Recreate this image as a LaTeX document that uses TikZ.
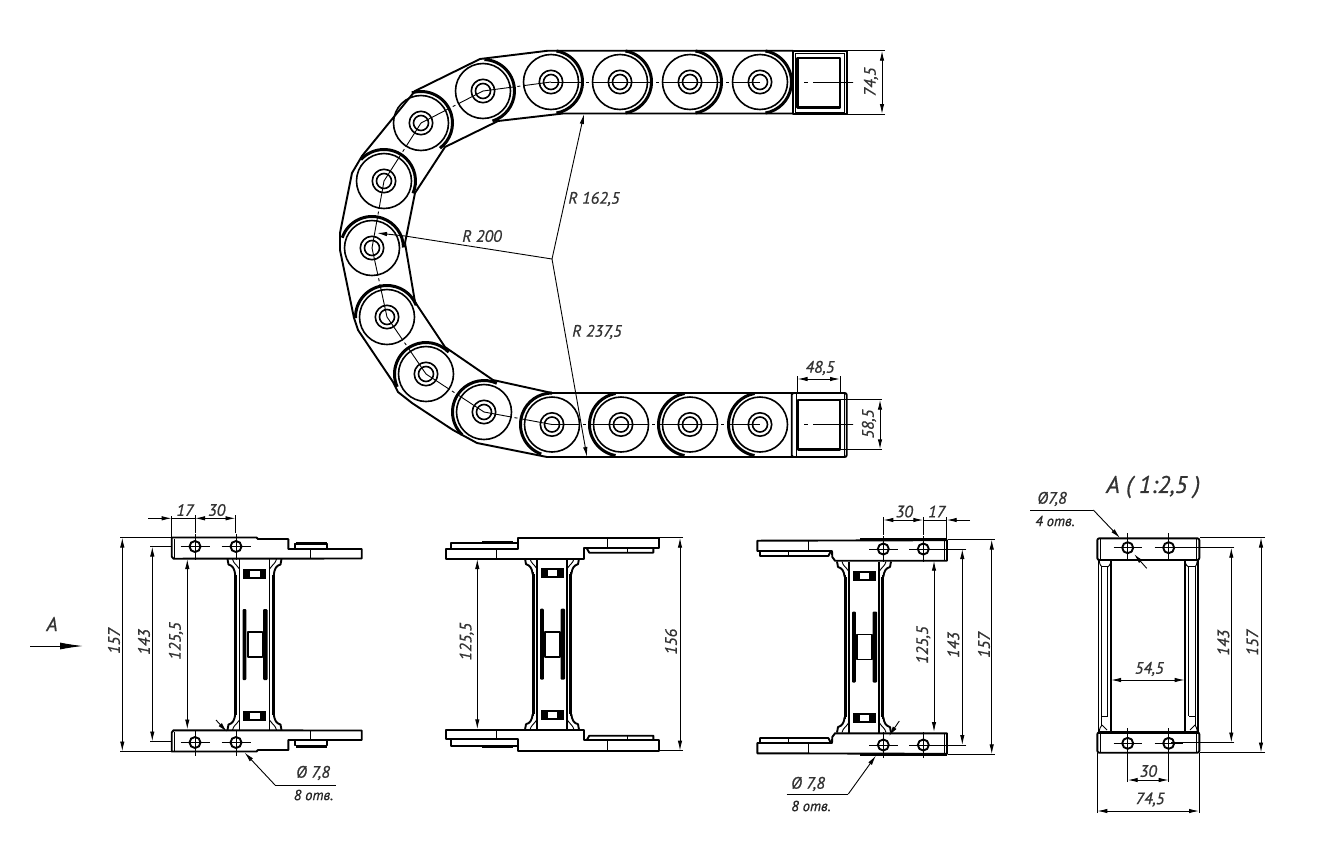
\documentclass[tikz,border=0pt]{standalone}
\usepackage{fontspec}
\setmainfont{PT Sans}[ItalicFeatures={FakeBold=0.8}]
\usetikzlibrary{arrows.meta}

\tikzset{
  main/.style={line width=1.9pt, line join=round},
  heavy/.style={line width=3pt},
  ring/.style={line width=1.6pt},
  thinl/.style={line width=0.9pt},
  dim/.style={line width=0.9pt, {Latex[length=10pt,width=4.4pt]}-{Latex[length=10pt,width=4.4pt]}},
  dimto/.style={line width=0.9pt, -{Latex[length=10pt,width=4.4pt]}},
  dimtext/.style={inner sep=0pt, text=black!80, font=\fontsize{16.5}{16}\selectfont\itshape},
  notetext/.style={inner sep=0pt, text=black!85, font=\fontsize{14.5}{14}\selectfont\itshape}
}

% web between the two bars, same in all three side views
\newcommand{\webpart}{
  \foreach \s in {1,-1} {
    \begin{scope}[yscale=\s]
      \fill[black] (-11.5,-76) rectangle (11.5,-66);
      \fill[white] (-4.5,-74) rectangle (5,-68);
      \foreach \t in {1,-1} {
        \begin{scope}[xscale=\t]
          \draw[main] (15,-85.5) -- (15,0);
          \draw[main] (19.3,-72) -- (19.3,0);
          \draw[thinl] (17.8,-70) -- (17.8,0);
          \draw[main] (27,-85.5) -- (26,-80) .. controls (22,-79) and (20,-76) .. (19.3,-70);
          \draw[thinl] (22,-85.5) .. controls (21,-81) and (18,-80) .. (15.5,-76);
        \end{scope}
      }
    \end{scope}
  }
  \fill[black, rounded corners=1pt] (-12,-35.5) rectangle (-8.2,35.5);
  \fill[black, rounded corners=1pt] (8.6,-35.5) rectangle (13,35.5);
  \draw[main, fill=white] (-6.8,-12.5) rectangle (8,12.5);
}
% bar of the left view
\newcommand{\barleft}{
  \draw[main] (-82.8,-107) -- (2,-107) -- (3.5,-105.5) -- (33.8,-105.5) -- (33.8,-95.5) -- (107.2,-95.5) -- (107.2,-86) -- (-81,-85.8) -- (-82.8,-88) -- cycle;
  \draw[thinl] (-80.5,-106) -- (-80.5,-87);
  \draw[thinl] (56.2,-95.5) -- (56.2,-86);
  \draw[main] (40.5,-96) -- (40.5,-101) -- (72.2,-101) -- (72.2,-96);
  \draw[heavy] (41,-101.5) -- (72,-101.5);
  \draw[main] (-59.5,-98) circle (5.5);
  \draw[main] (-18.5,-98) circle (5.5);
  \draw[thinl] (-74,-98) -- (-45,-98);
  \draw[thinl] (-33,-98) -- (-4,-98);
  \draw[thinl] (-59.5,-111) -- (-59.5,-85);
  \draw[thinl] (-18.5,-111) -- (-18.5,-85);
}
% bar of the middle view
\newcommand{\barmid}{
  \draw[main] (-106.3,-95.2) -- (-33.7,-95.2) -- (-33.7,-106.5) -- (107.3,-106.5) -- (107.3,-96) -- (32,-96) -- (32,-85.5) -- (-106.3,-85.5) -- cycle;
  \draw[main] (-101.3,-95.2) -- (-101.3,-101.5) -- (-33.7,-101.5);
  \draw[heavy] (-70,-102) -- (-39,-102);
  \draw[main] (34.7,-96) -- (37.3,-91.5) -- (101.3,-91.5) -- (101.3,-96);
  \draw[thinl] (55.3,-106.5) -- (55.3,-96);
  \draw[thinl] (-55.3,-95.2) -- (-55.3,-85.5);
  \draw[thinl] (75.3,-96) -- (75.3,-91.5);
}
% bar of the right view
\newcommand{\barright}{
  \draw[main] (-106.7,-106.3) -- (83,-106.8) -- (83,-86.3) -- (-29,-86.3) -- (-31.7,-90) -- (-32,-96) -- (-106.7,-96) -- cycle;
  \draw[heavy] (-4,-107.2) -- (83,-107.2);
  \draw[thinl] (80.5,-106) -- (80.5,-87);
  \draw[main] (-104,-96) -- (-104,-91) -- (-35.7,-91) -- (-33,-96);
  \draw[thinl] (-55.7,-106.3) -- (-55.7,-96);
  \draw[thinl] (-75.7,-96) -- (-75.7,-91);
  \draw[main] (19.3,-98) circle (5.5);
  \draw[main] (59.3,-98) circle (5.5);
  \draw[thinl] (5,-98) -- (34,-98);
  \draw[thinl] (45,-98) -- (74,-98);
  \draw[thinl] (19.3,-111) -- (19.3,-85);
  \draw[thinl] (59.3,-111) -- (59.3,-85);
}

\begin{document}
\begin{tikzpicture}[x=1pt,y=-1pt]
\useasboundingbox (0,0) rectangle (1317,852);

        % Roller centres
        \coordinate (r1)  at (551,82);
        \coordinate (r2)  at (483,91);
        \coordinate (r3)  at (421,123);
        \coordinate (r4)  at (384,181);
        \coordinate (r5)  at (372,248);
        \coordinate (r6)  at (387,317);
        \coordinate (r7)  at (426,374);
        \coordinate (r8)  at (484,412);
        \coordinate (r9)  at (552,424.5);
        \coordinate (r10) at (621,424.5);
        \coordinate (r11) at (690,424.5);
        \coordinate (r12) at (760,424.5);
        \coordinate (r13) at (620,82);
        \coordinate (r14) at (690,82);
        \coordinate (r15) at (760,82);

% center lines
\foreach \a/\b in {r15/r14,r14/r13,r13/r1,r1/r2,r2/r3,r3/r4,r4/r5,r5/r6,r6/r7,r7/r8,r8/r9,r9/r10,r10/r11,r11/r12} {
  \draw[thinl, dash pattern=on 28pt off 3pt on 3pt off 3pt on 60pt] (\a) -- (\b);
}

% Rollers and their heavy crescents
\foreach \r/\a in {r1/0,r13/0,r14/0,r15/0,r2/-7.5,r3/-27,r4/-57,r5/-81,r6/-102,r7/-124,r8/-146,r9/-170,r10/-180,r11/-180,r12/-180} {
  \draw[ring] (\r) circle (27.5);
  \draw[ring] (\r) circle (11.7);
  \draw[ring] (\r) circle (7.5);
  \draw[heavy] (\r) ++(\a-80:31.5) arc (\a-80:\a+80:31.5);
}

% Chain outline
\draw[main] (793,50.7) -- (548,50.7) -- (480,59) -- (415,91) -- (362,156) -- (352,173) -- (340,233) -- (340,250) -- (354,318) -- (358,330) -- (393,382) -- (398,392) -- (412,403) -- (453,430) -- (477,443) -- (547,457) -- (793,457);
\draw[main] (793,113.5) -- (563,113.5) -- (498,121) -- (445,147) -- (415,193) -- (405,243) -- (415,302) -- (445,347) -- (493,380) -- (552,393) -- (793,393);

% End pieces
\draw[main] (792.7,50.7) rectangle (846.7,114);
\draw[thinl] (795,53) rectangle (844.5,112);
\draw[main, line width=2.4pt] (797.5,58) rectangle (840,107.5);
\draw[main, rounded corners=2pt] (791.7,393) rectangle (846.7,457);
\draw[thinl] (796.5,393) -- (796.5,457);
\draw[thinl] (844,393) -- (844,457);
\draw[main, line width=2.4pt] (797.7,400) rectangle (840,449.3);
\draw[thinl, dash pattern=on 0pt off 11pt on 4pt off 5pt on 40pt] (793,82) -- (853,82);
\draw[thinl, dash pattern=on 0pt off 11pt on 4pt off 5pt on 40pt] (793,424.5) -- (853,424.5);

% Radii
\coordinate (c0) at (552,259);
\coordinate (t162) at (584,114);
\coordinate (t200) at (377,233);
\coordinate (t237) at (587,457);
\coordinate (k200) at (405,236);
\draw[dimto] (c0) -- (t162);
\draw[dimto] (c0) -- (t237);
\draw[thinl] (c0) -- (k200);
\draw[dimto] (k200) -- (t200);
\node[dimtext] at (594,199) (lr162) {R 162,5};
\node[dimtext] at (482,236) (lr200) {R 200};
\node[dimtext] at (597,332) (lr237) {R 237,5};

% Dimensions of the chain
\coordinate (a745) at (882,50.7);
\coordinate (b745) at (882,114);
\draw[dim] (a745) -- (b745);
\draw[thinl] (a745) ++(3,0) -- ++(-38,0);
\draw[thinl] (b745) ++(3,0) -- ++(-38,0);
\node[dimtext, rotate=90] at (871,82) (l745) {74,5};
\coordinate (a485) at (797.5,379);
\coordinate (b485) at (840,379);
\draw[dim] (a485) -- (b485);
\draw[thinl] (a485) ++(0,-3) -- ++(0,17);
\draw[thinl] (b485) ++(0,-3) -- ++(0,17);
\node[dimtext] at (820,368) (l485) {48,5};
\coordinate (a585) at (880,399.7);
\coordinate (b585) at (880,449.3);
\draw[dim] (a585) -- (b585);
\draw[thinl] (a585) ++(2,0) -- ++(-42,0);
\draw[thinl] (b585) ++(2,0) -- ++(-42,0);
\node[dimtext, rotate=90] at (869,424) (l585) {58,5};

% Arrow A
\coordinate (aa) at (30,646);
\coordinate (ab) at (83,646);
\draw[line width=0.9pt, -{Latex[length=23pt,width=7pt]}] (aa) -- (ab);
\node[dimtext, font=\fontsize{20}{20}\selectfont\itshape] at (52,624) (lA) {A};

% Left view
\begin{scope}[shift={(254.5,644.5)}]
  \webpart
  \foreach \s in {1,-1} {
    \begin{scope}[yscale=\s]
      \barleft
    \end{scope}
  }
\end{scope}
\coordinate (a157) at (122.3,537.5);
\coordinate (b157) at (122.3,751.5);
\draw[dim] (a157) -- (b157);
\draw[thinl] (a157) ++(-2,0) -- ++(52,0);
\draw[thinl] (b157) ++(-2,0) -- ++(52,0);
\node[dimtext, rotate=90] at (114,641) (l157) {157};
\coordinate (a143) at (152.3,546.5);
\coordinate (b143) at (152.3,741.5);
\draw[dim] (a143) -- (b143);
\draw[thinl] (a143) ++(-2,0) -- ++(22,0);
\draw[thinl] (b143) ++(-2,0) -- ++(22,0);
\node[dimtext, rotate=90] at (144,642) (l143) {143};
\coordinate (a125) at (187.3,559);
\coordinate (b125) at (187.3,729.5);
\draw[dim] (a125) -- (b125);
\node[dimtext, rotate=90] at (176,641) (l125) {125,5};
\coordinate (a17) at (148,518.3);
\coordinate (b17) at (171.7,518.3);
\coordinate (c17) at (195,518.3);
\coordinate (d17) at (235.5,518.3);
\draw[dimto] (a17) -- (b17);
\draw[thinl] (b17) -- (c17);
\draw[dim] (c17) -- (d17);
\draw[thinl] (b17) ++(0,-2) -- ++(0,22);
\draw[thinl] (c17) ++(0,-3) -- ++(0,18);
\draw[thinl] (d17) ++(0,-3) -- ++(0,18);
\node[dimtext] at (185,510) (l17) {17};
\node[dimtext] at (216.7,510) (l30) {30};
\coordinate (ln1) at (335.7,785);
\coordinate (ln2) at (275,785);
\coordinate (ln3) at (244.5,752.5);
\coordinate (ln4) at (216,720);
\coordinate (ln5) at (227,732);
\draw[dimto] (ln2) -- (ln3);
\draw[thinl] (ln1) -- (ln2);
\draw[dimto] (ln4) -- (ln5);
\node[dimtext] at (313,773) (lh1) {Ø 7,8};
\node[notetext] at (313.5,795) (ln8) {8 отв.};

% Middle view
\begin{scope}[shift={(552,644.2)}]
  \webpart
  \foreach \s in {1,-1} {
    \begin{scope}[yscale=\s]
      \barmid
    \end{scope}
  }
\end{scope}
\coordinate (am125) at (477.3,559);
\coordinate (bm125) at (477.3,729.3);
\draw[dim] (am125) -- (bm125);
\node[dimtext, rotate=90] at (466.7,641.7) (lm125) {125,5};
\coordinate (a156) at (680,537.7);
\coordinate (b156) at (680,750.7);
\draw[dim] (a156) -- (b156);
\draw[thinl] (a156) ++(3,0) -- ++(-24,0);
\draw[thinl] (b156) ++(3,0) -- ++(-24,0);
\node[dimtext, rotate=90] at (671,641.7) (l156) {156};

% Right view
\begin{scope}[shift={(864,647)}]
  \webpart
  \foreach \s in {1,-1} {
    \begin{scope}[yscale=\s]
      \barright
    \end{scope}
  }
\end{scope}
\coordinate (ar17) at (970,520);
\coordinate (br17) at (946.7,520);
\coordinate (cr17) at (923.3,520);
\coordinate (dr17) at (883.3,520);
\draw[dimto] (ar17) -- (br17);
\draw[thinl] (br17) -- (cr17);
\draw[dim] (cr17) -- (dr17);
\draw[thinl] (br17) ++(0,-3) -- ++(0,23);
\draw[thinl] (cr17) ++(0,-3) -- ++(0,18);
\draw[thinl] (dr17) ++(0,-3) -- ++(0,18);
\node[dimtext] at (904.3,511.5) (lr30) {30};
\node[dimtext] at (936.7,511.5) (lr17) {17};
\coordinate (ar125) at (934,560.7);
\coordinate (br125) at (934,732);
\draw[dim] (ar125) -- (br125);
\node[dimtext, rotate=90] at (923.3,645) (lrr125) {125,5};
\coordinate (ar143) at (962.3,549);
\coordinate (br143) at (962.3,745);
\draw[dim] (ar143) -- (br143);
\draw[thinl] (ar143) ++(4,0) -- ++(-35,0);
\draw[thinl] (br143) ++(4,0) -- ++(-35,0);
\node[dimtext, rotate=90] at (953.3,645) (lr143) {143};
\coordinate (ar157) at (991.7,539.5);
\coordinate (br157) at (991.7,754.3);
\draw[dim] (ar157) -- (br157);
\draw[thinl] (ar157) ++(3,0) -- ++(-47,0);
\draw[thinl] (br157) ++(3,0) -- ++(-47,0);
\node[dimtext, rotate=90] at (984,645) (lr157) {157};
\coordinate (lm1) at (786.7,794);
\coordinate (lm2) at (848.3,794);
\coordinate (lm3) at (876,755.5);
\coordinate (lm4) at (899.3,721);
\coordinate (lm5) at (889,736);
\draw[thinl] (lm1) -- (lm2);
\draw[dimto] (lm2) -- (lm3);
\draw[dimto] (lm4) -- (lm5);
\node[dimtext] at (808,784) (lh3) {Ø 7,8};
\node[notetext] at (811,806) (lm8) {8 отв.};

% View A
\node[dimtext, font=\fontsize{24}{24}\selectfont\itshape] at (1153.3,487) (lview) {A ( 1:2,5 )};
\draw[main, rounded corners=2pt] (1097.3,538.3) rectangle (1199.3,560);
\draw[main, rounded corners=2pt] (1097.3,732.3) rectangle (1199.3,752.7);
\draw[heavy] (1098,732.3) -- (1199,732.3);
\draw[thinl] (1100,538.5) -- (1100,560);
\draw[thinl] (1196.7,538.5) -- (1196.7,560);
\draw[thinl] (1100,732.5) -- (1100,752.5);
\draw[thinl] (1196.7,732.5) -- (1196.7,752.5);
\draw[main] (1098.5,560) -- (1098.5,732);
\draw[main] (1198,560) -- (1198,732);
\draw[main] (1111,560) -- (1111,732);
\draw[main] (1184.7,560) -- (1184.7,732);
\foreach \t/\u in {1101.7/1107.7,1195/1188.5} {
  \draw[thinl] (\t,566) -- (\t,726);
  \draw[thinl] (\u,566) -- (\u,716);
  \draw[thinl] (\t,566.5) -- (\u,566.5);
  \draw[thinl] (\t,716.7) -- (\u,716.7);
}
\draw[thinl] (1099,560) .. controls (1100,564) and (1100,566) .. (1102,567);
\draw[thinl] (1197.5,560) .. controls (1196.5,564) and (1196.5,566) .. (1195,567);
\draw[thinl] (1099,732) .. controls (1100,728) and (1100,727) .. (1102,725);
\draw[thinl] (1197.5,732) .. controls (1196.5,728) and (1196.5,727) .. (1195,725);
\draw[thinl] (1107.7,567) .. controls (1109,566) and (1110,565) .. (1111,562);
\draw[thinl] (1188.5,567) .. controls (1187,566) and (1186,565) .. (1185,562);
\draw[thinl] (1102,725) -- (1107,730);
\draw[thinl] (1195,725) -- (1190,730);
\foreach \x/\y in {1127.7/547.7,1168.7/547.7,1127.7/743.3,1168.7/743.3} {
  \draw[main] (\x,\y) circle (5.5);
  \draw[thinl] (\x-14,\y) -- (\x+14,\y);
}
\draw[thinl] (1127.7,533.3) -- (1127.7,560);
\draw[thinl] (1168.7,533.3) -- (1168.7,560);
\coordinate (av30) at (1127.7,780);
\coordinate (bv30) at (1168.7,780);
\draw[dim] (av30) -- (bv30);
\draw[thinl] (av30) ++(0,2) -- ++(0,-54);
\draw[thinl] (bv30) ++(0,2) -- ++(0,-54);
\node[dimtext] at (1148.3,771) (lv30) {30};
\coordinate (av74) at (1097.3,811);
\coordinate (bv74) at (1199,811);
\draw[dim] (av74) -- (bv74);
\draw[thinl] (av74) ++(0,2) -- ++(0,-60);
\draw[thinl] (bv74) ++(0,2) -- ++(0,-60);
\node[dimtext] at (1150,799.5) (lv74) {74,5};
\coordinate (av54) at (1111,680);
\coordinate (bv54) at (1184.7,680);
\draw[dim] (av54) -- (bv54);
\node[dimtext] at (1149.3,669) (lv54) {54,5};
\coordinate (av143) at (1231.3,547.7);
\coordinate (bv143) at (1231.3,742.5);
\draw[dim] (av143) -- (bv143);
\draw[thinl] (av143) ++(3,0) -- ++(-63,0);
\draw[thinl] (bv143) ++(3,0) -- ++(-63,0);
\node[dimtext, rotate=90] at (1223.3,642.7) (lv143) {143};
\coordinate (av157) at (1261,537.5);
\coordinate (bv157) at (1261,752.5);
\draw[dim] (av157) -- (bv157);
\draw[thinl] (av157) ++(4,0) -- ++(-65,0);
\draw[thinl] (bv157) ++(4,0) -- ++(-65,0);
\node[dimtext, rotate=90] at (1252.3,642.7) (lv157) {157};
\coordinate (lv1) at (1030,510);
\coordinate (lv2) at (1093.3,510);
\coordinate (lv3) at (1120,538);
\coordinate (lv4) at (1146.7,568.3);
\coordinate (lv5) at (1134,554);
\draw[thinl] (lv1) -- (lv2);
\draw[dimto] (lv2) -- (lv3);
\draw[dimto] (lv4) -- (lv5);
\node[dimtext] at (1052,499) (lh4) {Ø7,8};
\node[notetext] at (1055,521) (lv8) {4 отв.};
\end{tikzpicture}
\end{document}
